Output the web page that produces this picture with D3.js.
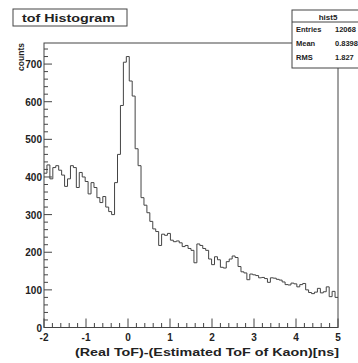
<!DOCTYPE html>
<html>
<head>
<meta charset="utf-8">
<script src="https://cdn.jsdelivr.net/npm/d3@7"></script>
<style>
  html, body { margin: 0; padding: 0; background: #fff; }
  svg { display: block; }
  text { font-family: "Liberation Sans", Arial, sans-serif; font-weight: bold; fill: #222; }
</style>
</head>
<body>
<svg id="c" width="358" height="363"></svg>
<script>
// Histogram binning: 100 bins from -2 ns to 5 ns
const xMin = -2, xMax = 5, nBins = 100;
// Bin contents (counts per bin)
const counts = [
  410, 432, 395, 425, 430, 418, 405, 375, 395, 430,
  425, 372, 412, 400, 388, 355, 385, 372, 345, 332,
  348, 320, 308, 300, 385, 460, 590, 705, 720, 655,
  615, 475, 430, 345, 325, 305, 282, 262, 255, 218,
  248, 245, 250, 232, 228, 230, 225, 215, 218, 210,
  205, 172, 222, 218, 210, 205, 182, 167, 188, 180,
  160, 158, 175, 182, 190, 186, 162, 148, 145, 127,
  142, 140, 138, 132, 133, 130, 120, 132, 131, 128,
  126, 121, 114, 113, 118, 116, 108, 114, 117, 100,
  93, 90, 94, 104, 92, 95, 108, 82, 96, 80
];
const xTicks = [-2, -1, 0, 1, 2, 3, 4, 5];
const yTicks = [0, 100, 200, 300, 400, 500, 600, 700];
const statLabels = ["Entries", "Mean", "RMS"];
const statValues = ["12068", "0.8398", "1.827"];

const svg = d3.select("#c");
const frame = { left: 44, right: 338, top: 43, bottom: 327.5 };
const ink = "#444";

const yMax = d3.max(counts) * 1.05;
const x = d3.scaleLinear().domain([xMin, xMax]).range([frame.left, frame.right]);
const y = d3.scaleLinear().domain([0, yMax]).range([frame.bottom, frame.top]);
const bw = (xMax - xMin) / nBins;

// frame box
svg.append("rect")
  .attr("x", frame.left).attr("y", frame.top)
  .attr("width", frame.right - frame.left).attr("height", frame.bottom - frame.top)
  .attr("fill", "none").attr("stroke", ink).attr("stroke-width", 1);

// histogram outline (step)
const pts = [];
counts.forEach((c, i) => {
  pts.push([x(xMin + i * bw), y(c)]);
  pts.push([x(xMin + (i + 1) * bw), y(c)]);
});
svg.append("path")
  .attr("d", d3.line()(pts))
  .attr("fill", "none").attr("stroke", "#444").attr("stroke-width", 1);

// y axis ticks (inside, pointing right)
const yMinor = d3.range(0, yMax, 20);
svg.append("g").selectAll("line").data(yMinor).join("line")
  .attr("x1", frame.left).attr("x2", d => frame.left + (d % 100 === 0 ? 8 : 4))
  .attr("y1", d => y(d)).attr("y2", d => y(d))
  .attr("stroke", ink).attr("stroke-width", 1);
svg.append("g").selectAll("text").data(yTicks).join("text")
  .attr("x", frame.left - 2).attr("y", d => y(d) + 4)
  .attr("text-anchor", "end").attr("font-size", 10)
  .text(d => d);

// x axis ticks (inside, pointing up)
const xMinor = d3.range(0, 36).map(k => xMin + k * 0.2);
svg.append("g").selectAll("line").data(xMinor).join("line")
  .attr("x1", d => x(d)).attr("x2", d => x(d))
  .attr("y1", frame.bottom)
  .attr("y2", (d, k) => frame.bottom - (k % 5 === 0 ? 9 : 4.5))
  .attr("stroke", ink).attr("stroke-width", 1);
svg.append("g").selectAll("text").data(xTicks).join("text")
  .attr("x", d => x(d)).attr("y", 341)
  .attr("text-anchor", "middle").attr("font-size", 10)
  .text(d => d);

// axis titles
svg.append("text")
  .attr("x", 75).attr("y", 356)
  .attr("font-size", 11)
  .attr("textLength", 264).attr("lengthAdjust", "spacingAndGlyphs")
  .text("(Real ToF)-(Estimated ToF of Kaon)[ns]");
svg.append("text")
  .attr("transform", `translate(24,${frame.top}) rotate(-90)`)
  .attr("text-anchor", "end").attr("font-size", 8.5)
  .text("counts");

// title box
svg.append("rect")
  .attr("x", 13).attr("y", 9).attr("width", 114).attr("height", 17)
  .attr("fill", "#fff").attr("stroke", ink).attr("stroke-width", 1);
svg.append("text")
  .attr("x", 22).attr("y", 21.5).attr("font-size", 11.5)
  .attr("textLength", 93).attr("lengthAdjust", "spacingAndGlyphs")
  .text("tof Histogram");

// statistics box
const sb = { x: 292, y: 10, w: 80, h: 58 };
svg.append("rect")
  .attr("x", sb.x).attr("y", sb.y).attr("width", sb.w).attr("height", sb.h)
  .attr("fill", "#fff").attr("stroke", ink).attr("stroke-width", 1);
svg.append("line")
  .attr("x1", sb.x).attr("x2", sb.x + sb.w).attr("y1", 22).attr("y2", 22)
  .attr("stroke", ink).attr("stroke-width", 1);
svg.append("text")
  .attr("x", 328).attr("y", 19.5).attr("text-anchor", "middle").attr("font-size", 8)
  .text("hist5");
statLabels.forEach((lab, i) => {
  const yy = 32 + i * 14;
  svg.append("text").attr("x", 296).attr("y", yy).attr("font-size", 7.5).text(lab);
  svg.append("text").attr("x", 335).attr("y", yy).attr("font-size", 7.5).text(statValues[i]);
});
</script>
</body>
</html>
